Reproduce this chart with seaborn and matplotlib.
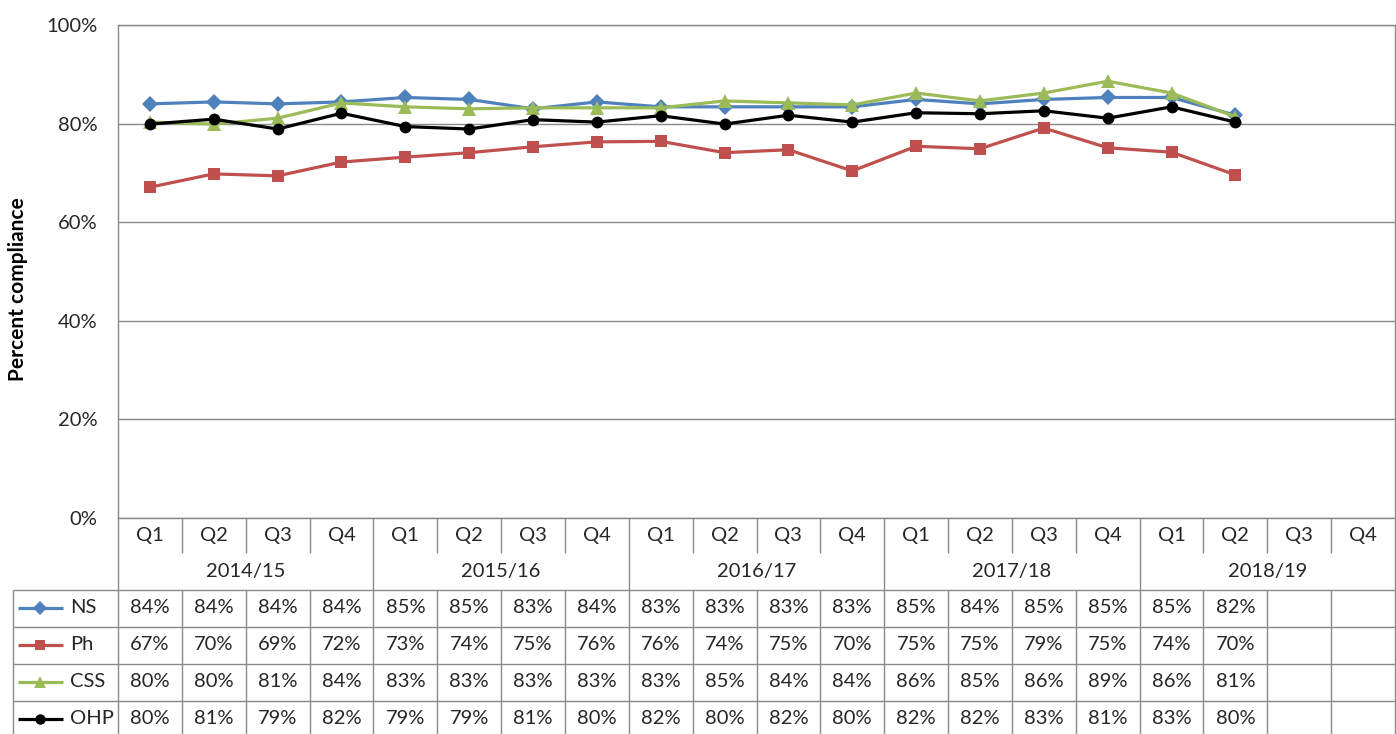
import numpy as np
import pandas as pd
import matplotlib
matplotlib.use("Agg")
import matplotlib.pyplot as plt
import seaborn as sns

years = ["2014/15", "2015/16", "2016/17", "2017/18", "2018/19"]
quarters = ["Q1", "Q2", "Q3", "Q4"]
series_names = ["NS", "Ph", "CSS", "OHP"]

ns = [84.0, 84.4, 84.0, 84.4, 85.3, 84.9, 83.0, 84.4, 83.4, 83.4, 83.4, 83.4,
      84.9, 84.0, 84.9, 85.3, 85.3, 81.7, np.nan, np.nan]
ph = [67.1, 69.8, 69.4, 72.2, 73.2, 74.1, 75.3, 76.3, 76.4, 74.1, 74.7, 70.4,
      75.4, 74.9, 79.1, 75.1, 74.2, 69.6, np.nan, np.nan]
css = [80.3, 79.9, 81.1, 84.2, 83.4, 83.0, 83.2, 83.2, 83.2, 84.6, 84.2, 83.8,
       86.2, 84.6, 86.2, 88.6, 86.2, 81.4, np.nan, np.nan]
ohp = [79.9, 80.9, 78.9, 82.1, 79.4, 78.9, 80.8, 80.3, 81.6, 79.9, 81.7, 80.3,
       82.2, 82.0, 82.6, 81.1, 83.4, 80.3, np.nan, np.nan]

colors = {"NS": "#4F81BD", "Ph": "#C0504D", "CSS": "#9BBB59", "OHP": "#000000"}
markers = {"NS": "D", "Ph": "s", "CSS": "^", "OHP": "o"}
msizes = {"NS": 8.5, "Ph": 8, "CSS": 9.5, "OHP": 8.5}

sns.set_theme(style="white")
plt.rcParams["font.family"] = ["Lato", "DejaVu Sans"]
TXT = "#262626"
GRID = "#898989"
FS = 14.5

n = len(years) * len(quarters)
rows = []
for name, vals in zip(series_names, [ns, ph, css, ohp]):
    for i, v in enumerate(vals):
        rows.append({"series": name, "idx": i, "value": v})
df = pd.DataFrame(rows)

W, H = 1396, 734
fig = plt.figure(figsize=(W / 100, H / 100), dpi=100)
L, R, T, B = 118, 1395, 25, 518
ax = fig.add_axes([L / W, 1 - B / H, (R - L) / W, (B - T) / H])

for name in series_names:
    d = df[df["series"] == name].dropna()
    sns.lineplot(data=d, x="idx", y="value", ax=ax, color=colors[name],
                 marker=markers[name], markersize=msizes[name],
                 markeredgewidth=0, linewidth=2.3, legend=False, zorder=3)

ax.set_xlim(-0.5, n - 0.5)
ax.set_ylim(0, 100)
ax.set_yticks(range(0, 101, 20))
ax.set_yticklabels([f"{t}%" for t in range(0, 101, 20)], fontsize=FS, color=TXT)
ax.tick_params(axis="y", length=0, pad=15)
ax.set_xticks([])
ax.set_xlabel("")
ax.set_ylabel("")
ax.grid(axis="y", color=GRID, linewidth=1)
for s in ax.spines.values():
    s.set_color(GRID)
    s.set_linewidth(1)
fig.text(18 / W, 1 - 289 / H, "Percent compliance", rotation=90, ha="center",
         va="center", fontsize=15, fontweight="bold", color="#000000")

# data table
cw = (R - L) / n
tab = fig.add_axes([0, 0, 1, (H - B) / H])
tab.set_xlim(-0.5 - L / cw, -0.5 + (W - L) / cw)
tab.set_ylim(H, B)
tab.axis("off")

row_q = (518, 553)
row_y = (553, 590)
srows = [(590, 627), (627, 664), (664, 701), (701, 738)]
left_x = -0.5 - (L - 13) / cw
right_x = n - 0.5
lk = dict(color=GRID, linewidth=1, solid_capstyle="butt")

for i in range(n):
    tab.text(i, sum(row_q) / 2, quarters[i % 4], ha="center", va="center",
             fontsize=FS, color=TXT)
for j, yr in enumerate(years):
    tab.text(j * 4 + 1.5, sum(row_y) / 2, yr, ha="center", va="center",
             fontsize=FS, color=TXT)

for k in range(n + 1):
    xb = k - 0.5
    if k % 4 == 0:
        tab.plot([xb, xb], [518, 738], **lk)
    else:
        tab.plot([xb, xb], [518, row_q[1]], **lk)
        tab.plot([xb, xb], [590, 738], **lk)
tab.plot([left_x, left_x], [590, 738], **lk)
for yb in [590, 627, 664, 701]:
    tab.plot([left_x, right_x], [yb, yb], **lk)

for r, (name, vals) in enumerate(zip(series_names, [ns, ph, css, ohp])):
    yc = sum(srows[r]) / 2 - 1
    x0 = left_x + 5 / cw
    x1 = left_x + 50 / cw
    tab.plot([x0, x1], [yc, yc], color=colors[name], linewidth=2.3,
             solid_capstyle="butt")
    tab.plot([(x0 + x1) / 2], [yc], marker=markers[name], markersize=msizes[name] - 1,
             color=colors[name], markeredgewidth=0)
    tab.text(left_x + 57 / cw, yc, name, ha="left", va="center",
             fontsize=FS, color=TXT)
    for i, v in enumerate(vals):
        if not np.isnan(v):
            tab.text(i, yc, f"{int(round(v))}%", ha="center", va="center",
                     fontsize=FS, color=TXT)

fig.savefig("out.png", dpi=100)
